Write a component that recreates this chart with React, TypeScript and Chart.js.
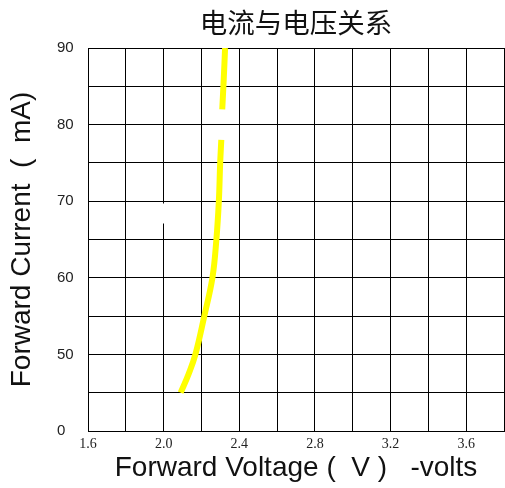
import React, { useEffect, useRef } from "react";
import { Chart, registerables } from "chart.js";

Chart.register(...registerables);

const chartTitle = "电流与电压关系";
const xAxisTitle = "Forward Voltage (  V )   -volts";
const yAxisTitle = "Forward Current  (  mA)";

// Forward voltage (V) and forward current (mA); null marks the break
const voltageValues = [2.09, 2.133, 2.168, 2.215, 2.258, 2.279, 2.292, 2.299, 2.305, 2.306, 2.31, 2.318, 2.325];
const currentValues: (number | null)[] = [45, 47.5, 50, 55, 60, 65, 70, 75, 78, null, 82, 86, 90];

// small white break in the 2.0 V grid line
const breakVoltage = [2.0, 2.0];
const breakCurrent = [69.7, 67.1];

const voltageTickValues = [1.6, 2.0, 2.4, 2.8, 3.2, 3.6];
const voltageTickLabels = ["1.6", "2.0", "2.4", "2.8", "3.2", "3.6"];
const currentTickValues = [40, 50, 60, 70, 80, 90];
const currentTickLabels = ["0", "50", "60", "70", "80", "90"];

function labelFor(v: number, values: number[], labels: string[]) {
  const i = values.findIndex((t) => Math.abs(t - v) < 1e-6);
  return i >= 0 ? labels[i] : "";
}

export default function App() {
  const ref = useRef<HTMLCanvasElement | null>(null);

  useEffect(() => {
    if (!ref.current) return;
    const curve = voltageValues.map((x, i) => ({ x, y: currentValues[i] }));
    const gap = breakVoltage.map((x, i) => ({ x, y: breakCurrent[i] }));
    const chart = new Chart(ref.current, {
      type: "line",
      data: {
        datasets: [
          {
            data: gap as any,
            borderColor: "#ffffff",
            borderWidth: 3,
            pointRadius: 0,
            tension: 0,
          },
          {
            data: curve as any,
            borderColor: "#ffff00",
            borderWidth: 6,
            pointRadius: 0,
            tension: 0.4,
            spanGaps: false,
            borderCapStyle: "butt",
          },
        ],
      },
      options: {
        animation: false,
        responsive: false,
        layout: { padding: { left: 0, right: 1, top: 0, bottom: 0 } },
        plugins: {
          legend: { display: false },
          tooltip: { enabled: false },
          title: {
            display: true,
            text: chartTitle,
            fullSize: false,
            color: "#111",
            font: { family: '"Noto Sans CJK SC"', size: 27.5, weight: "normal" as any },
            padding: { top: 6, bottom: 9 },
          },
        },
        scales: {
          x: {
            type: "linear",
            min: 1.6,
            max: 3.8,
            grid: { color: "#000", lineWidth: 1, drawTicks: false },
            border: { color: "#000" },
            ticks: {
              stepSize: 0.2,
              autoSkip: false,
              maxRotation: 0,
              padding: 5,
              color: "#222",
              font: { family: '"Liberation Serif"', size: 14 },
              callback: (v: any) => labelFor(Number(v), voltageTickValues, voltageTickLabels),
            },
            title: {
              display: true,
              text: xAxisTitle,
              color: "#111",
              font: { family: '"Liberation Sans"', size: 28 },
              padding: { top: 0, bottom: 3 },
            },
            afterFit: (s: any) => {
              s.height = 57;
              s.paddingRight = 0;
              s.paddingLeft = 0;
            },
          },
          y: {
            type: "linear",
            position: "left",
            weight: 0,
            min: 40,
            max: 90,
            grid: { color: "#000", lineWidth: 1, drawTicks: false },
            border: { color: "#000" },
            ticks: {
              stepSize: 5,
              autoSkip: false,
              crossAlign: "far",
              color: "#222",
              font: { family: '"Liberation Sans"', size: 15 },
              callback: (v: any) => labelFor(Number(v), currentTickValues, currentTickLabels),
            },
            afterFit: (s: any) => {
              s.width = 31;
            },
          },
          yTitle: {
            type: "linear",
            position: "left",
            weight: 10,
            grid: { display: false, drawTicks: false },
            border: { display: false },
            ticks: { display: false },
            title: {
              display: true,
              text: yAxisTitle,
              color: "#111",
              font: { family: '"Liberation Sans"', size: 28 },
              padding: { top: 5, bottom: 0 },
            },
            afterFit: (s: any) => {
              s.width = 57;
            },
          },
        },
      } as any,
    });
    return () => chart.destroy();
  }, []);

  return (
    <div style={{ position: "absolute", left: 0, top: 0, width: 505, height: 488 }}>
      <canvas ref={ref} width={505} height={488} style={{ display: "block" }} />
    </div>
  );
}
